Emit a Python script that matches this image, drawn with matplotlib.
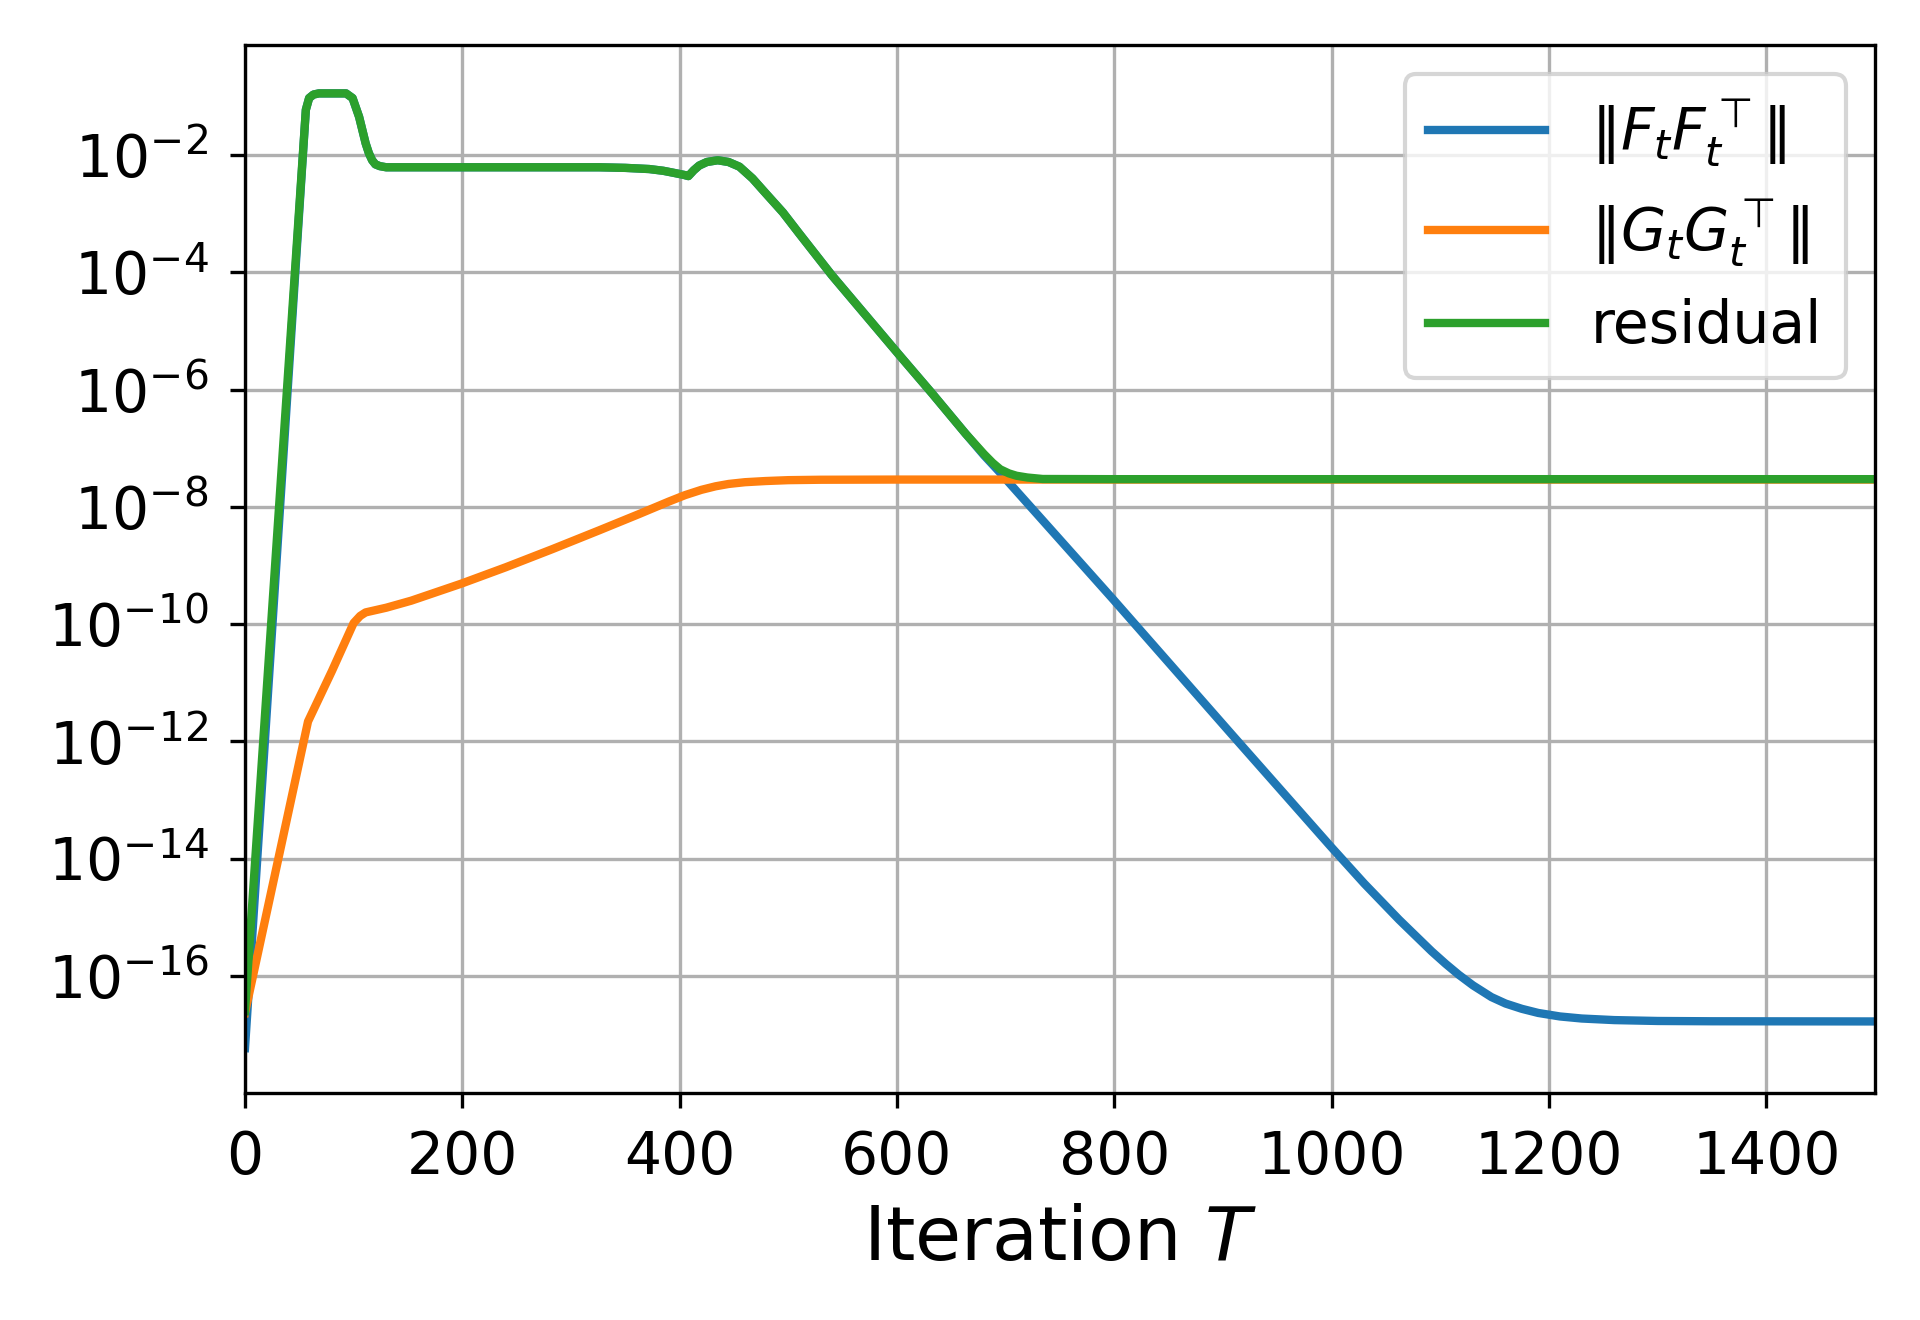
import numpy as np
import matplotlib
matplotlib.use("Agg")
import matplotlib.pyplot as plt
from matplotlib.ticker import FixedLocator, NullLocator, LogFormatterSciNotation

# ---- data (log10 values) ----
T_blue = [0, 56, 59, 63, 68, 93, 99, 105, 111, 114, 117, 120, 124, 130, 179, 326, 350, 372,
          385, 396, 404, 408, 413, 418, 425, 435, 445, 455, 467, 479, 495, 510, 540, 571,
          602, 632, 663, 680, 694, 799, 908, 999, 1030, 1062, 1092, 1105, 1117, 1130, 1147,
          1160, 1175, 1190, 1210, 1230, 1260, 1300, 1350, 1500]
logF = [-17.23, -1.23, -1.03, -0.97, -0.95, -0.95, -1.03, -1.35, -1.80, -1.97, -2.09,
        -2.16, -2.19, -2.21, -2.21, -2.21, -2.22, -2.24, -2.27, -2.31, -2.34, -2.36, -2.26,
        -2.18, -2.12, -2.09, -2.12, -2.20, -2.40, -2.65, -2.98, -3.34, -4.05, -4.73, -5.41,
        -6.06, -6.75, -7.12, -7.40, -9.58, -11.88, -13.79, -14.425, -15.04, -15.58, -15.795,
        -15.98, -16.16, -16.36, -16.47, -16.56, -16.63, -16.69, -16.725, -16.752, -16.767,
        -16.772, -16.775]

T_orange = [0, 58, 80, 100, 106, 111, 130, 153, 199, 240, 283, 326, 363, 390, 405, 420,
            433, 445, 460, 479, 500, 530, 600, 800, 1000, 1200, 1500]
logG = [-16.63, -11.66, -10.80, -9.98, -9.86, -9.80, -9.72, -9.60, -9.31, -9.03, -8.72,
        -8.40, -8.12, -7.91, -7.80, -7.71, -7.65, -7.61, -7.58, -7.56, -7.545, -7.538,
        -7.535, -7.535, -7.535, -7.535, -7.535]

T_green = [0, 56, 59, 63, 68, 93, 99, 105, 111, 114, 117, 120, 124, 130, 179, 326, 350,
           372, 385, 396, 404, 408, 413, 418, 425, 435, 445, 455, 467, 479, 495, 510, 540,
           571, 602, 632, 663, 680, 688, 695, 703, 710, 720, 734, 800, 1000, 1200, 1500]
logR = [-16.6, -1.23, -1.03, -0.97, -0.95, -0.95, -1.03, -1.35, -1.80, -1.97, -2.09, -2.16,
        -2.19, -2.21, -2.21, -2.21, -2.22, -2.24, -2.27, -2.31, -2.34, -2.36, -2.26, -2.18,
        -2.12, -2.09, -2.12, -2.20, -2.40, -2.65, -2.98, -3.34, -4.05, -4.73, -5.41, -6.06,
        -6.75, -7.10, -7.25, -7.36, -7.43, -7.47, -7.50, -7.525, -7.528, -7.528, -7.528,
        -7.528]

labels = [r'$\|F_tF_t^\top\|$', r'$\|G_tG_t^\top\|$', 'residual']
yticks = [1e-16, 1e-14, 1e-12, 1e-10, 1e-8, 1e-6, 1e-4, 1e-2]

fig = plt.figure(figsize=(6.4, 4.4), dpi=300)
ax = fig.add_axes([0.1276, 0.1722, 0.9766 - 0.1276, 0.9659 - 0.1722])

ax.plot(T_blue, 10.0 ** np.array(logF), color='#1f77b4', lw=2, label=labels[0])
ax.plot(T_orange, 10.0 ** np.array(logG), color='#ff7f0e', lw=2, label=labels[1])
ax.plot(T_green, 10.0 ** np.array(logR), color='#2ca02c', lw=2, label=labels[2])

ax.set_yscale('log')
ax.set_xlim(0, 1500)
ax.set_ylim(10 ** -17.99, 10 ** -0.125)
ax.yaxis.set_major_locator(FixedLocator(yticks))
ax.yaxis.set_major_formatter(LogFormatterSciNotation())
ax.yaxis.set_minor_locator(NullLocator())
ax.tick_params(labelsize=14, pad=5.3)
ax.grid(True)
ax.set_xlabel(r'Iteration $T$', fontsize=18)
ax.legend(fontsize=14, loc='upper right')

fig.savefig('out.png', dpi=300)
